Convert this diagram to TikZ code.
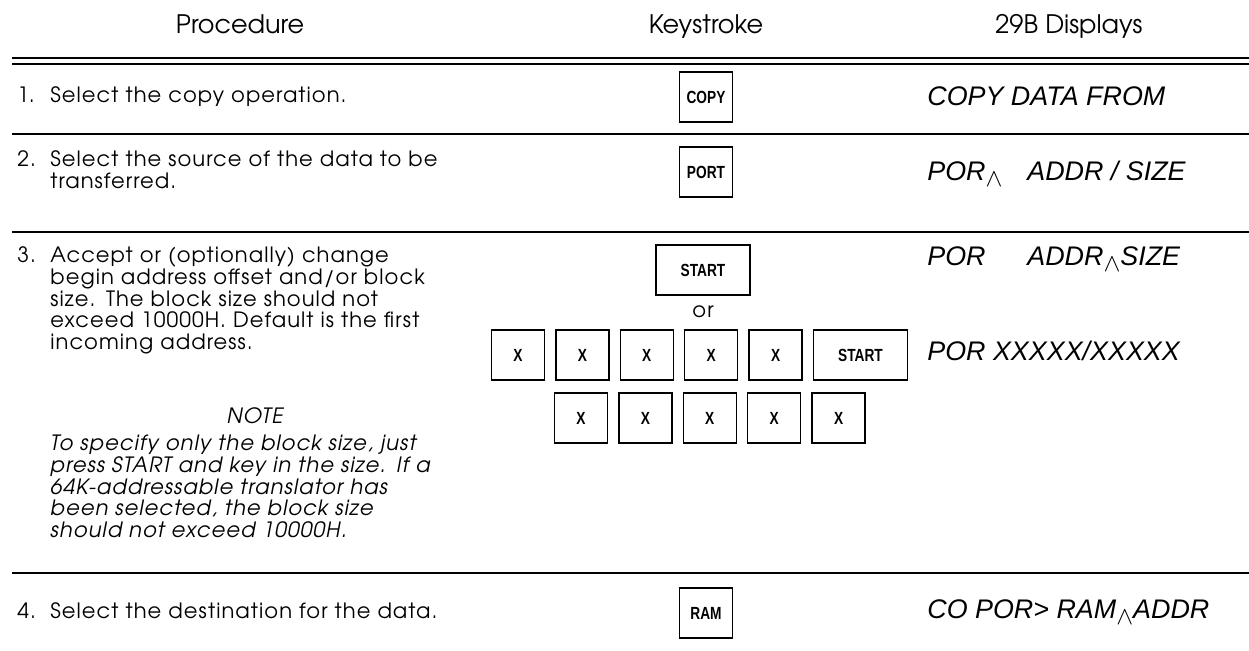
\documentclass[tikz,border=0pt]{standalone}
\usepackage{fontspec}
\usepackage{tikz}
\usetikzlibrary{positioning}

\IfFontExistsTF{TeX Gyre Adventor}
    {\newfontfamily\agfont{TeX Gyre Adventor}
     \newfontfamily\agtext[LetterSpace=5]{TeX Gyre Adventor}}
    {\newfontfamily\agfont{Poppins}
     \newfontfamily\agtext{Poppins}}
\newfontfamily\dispfont{Liberation Sans}
\newfontfamily\keyfont[FakeStretch=0.78]{Liberation Sans}
\newcommand{\caret}{\raisebox{-0.22em}{$\wedge$}}

\begin{document}
\begin{tikzpicture}[x=0.02cm, y=-0.02cm,
    head/.style={font=\agfont\fontsize{14.5}{16}\selectfont, inner sep=0pt, anchor=base},
    proc/.style={font=\agtext\fontsize{12}{12.3}\selectfont, inner sep=0pt, anchor=base west},
    procbody/.style={proc, text width=8.4cm, align=left},
    key/.style={draw, line width=0.8pt, minimum width=1.06cm, minimum height=1cm, inner sep=0pt,
        font=\keyfont\bfseries\fontsize{10}{12}\selectfont},
    widekey/.style={key, minimum width=1.88cm},
    disp/.style={font=\dispfont\itshape\fontsize{15.3}{18}\selectfont, inner sep=0pt, anchor=base west},
    rule/.style={line width=0.8pt}]

    \useasboundingbox (0,0) rectangle (1249,651);

    % Column heads
    \node[head] (hproc) at (240,34) {Procedure};
    \node[head] (hkey) at (706,34) {Keystroke};
    \node[head] (hdisp) at (1069,34) {29B Displays};
    \draw[rule, line width=1.2pt] (12,58) -- (1249,58);
    \draw[rule] (12,64) -- (1249,64);

    % Step 1
    \node[proc] (n1) at (17,103) {1.};
    \node[procbody] (t1) at (50,103) {Select the copy operation.};
    \node[key] (copy) at (706,97) {COPY};
    \node[disp] (d1) at (927,106) {COPY DATA FROM};
    \draw[rule] (12,134) -- (1249,134);

    % Step 2
    \node[proc] (n2) at (17,167) {2.};
    \node[procbody] (t2) at (50,167) {Select the source of the data to be\\transferred.};
    \node[key] (port) at (706,172) {PORT};
    \node[disp] (d2) at (927,181) {\makebox[2cm][l]{POR\caret}ADDR / SIZE};
    \draw[rule] (12,232) -- (1249,232);

    % Step 3
    \node[proc] (n3) at (17,263) {3.};
    \node[procbody] (t3) at (50,263) {Accept or (optionally) change\\begin address offset and/or block\\size. The block size should not\\exceed 10000H. Default is the first\\incoming address.};
    \node[proc, anchor=base] (note) at (255,424) {\itshape NOTE};
    \node[procbody] (t3note) at (50,451) {\itshape To specify only the block size, just\\press START and key in the size. If a\\64K-addressable translator has\\been selected, the block size\\should not exceed 10000H.};

    \node[widekey] (start) at (703,270) {START};
    \node[proc, anchor=center] (or) at (703,312) {or};
    \node[key] (xa1) at (518,355) {X};
    \node[key, right=0.2cm of xa1] (xa2) {X};
    \node[key, right=0.2cm of xa2] (xa3) {X};
    \node[key, right=0.2cm of xa3] (xa4) {X};
    \node[key, right=0.2cm of xa4] (xa5) {X};
    \node[widekey, right=0.2cm of xa5] (xstart) {START};
    \node[key] (xb1) at (581,418) {X};
    \node[key, right=0.2cm of xb1] (xb2) {X};
    \node[key, right=0.2cm of xb2] (xb3) {X};
    \node[key, right=0.2cm of xb3] (xb4) {X};
    \node[key, right=0.2cm of xb4] (xb5) {X};

    \node[disp] (d3) at (927,266) {\makebox[2cm][l]{POR}ADDR\caret SIZE};
    \node[disp] (d4) at (927,361) {POR XXXXX/XXXXX};
    \draw[rule] (12,573) -- (1249,573);

    % Step 4
    \node[proc] (n4) at (17,619) {4.};
    \node[procbody] (t4) at (50,619) {Select the destination for the data.};
    \node[key] (ram) at (706,613) {RAM};
    \node[disp] (d5) at (927,619) {CO POR> RAM\caret ADDR};

\end{tikzpicture}
\end{document}
